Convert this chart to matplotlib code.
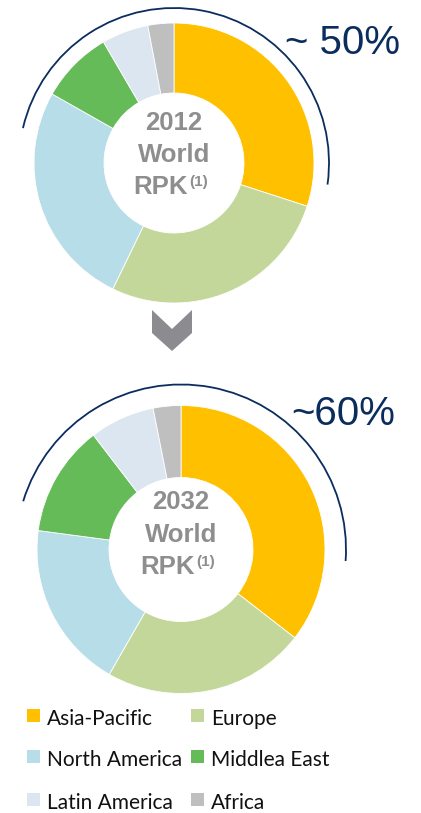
import matplotlib
matplotlib.use("Agg")
import matplotlib.pyplot as plt
from matplotlib.patches import Arc, Rectangle, Polygon

regions = ["Asia-Pacific", "Europe", "North America", "Middlea East", "Latin America", "Africa"]
colors = ["#FFC000", "#C4D79B", "#B7DDE8", "#66BB59", "#DCE6F1", "#BFBFBF"]
share_2012 = [30.0, 27.2, 26.0, 8.4, 5.4, 3.0]
share_2032 = [35.5, 22.8, 18.8, 12.5, 7.3, 3.1]
years = ["2012", "2032"]
callouts = ["~ 50%", "~60%"]

W, H = 421, 813
NAVY = "#0B2D5E"
GREY_TXT = "#8E8E8E"


def yy(y):
    # picture coords (top-down) -> data coords
    return H - y


fig = plt.figure(figsize=(W / 100, H / 100), dpi=100)
ax = fig.add_axes([0, 0, 1, 1])

layout = [
    dict(cx=174, cy=163, r=140, hole=70, arc_r=155, arc=(-8, 167),
         lines=(123, 155, 187), call=(285, 54)),
    dict(cx=181, cy=549.5, r=144, hole=72, arc_r=165, arc=(-4, 163),
         lines=(502, 535, 567), call=(291, 425)),
]

for vals, year, call, lay in zip([share_2012, share_2032], years, callouts, layout):
    cx, cy = lay["cx"], yy(lay["cy"])
    ax.pie(vals, colors=colors, startangle=90, counterclock=False,
           center=(cx, cy), radius=lay["r"], frame=True,
           wedgeprops=dict(width=lay["r"] - lay["hole"], edgecolor="white", linewidth=0.6))
    ax.add_patch(Arc((cx, cy), 2 * lay["arc_r"], 2 * lay["arc_r"],
                     theta1=lay["arc"][0], theta2=lay["arc"][1], color=NAVY, lw=1.3))
    ax.text(lay["call"][0], yy(lay["call"][1]), call, fontsize=29, color=NAVY,
            family="Liberation Sans", ha="left", va="baseline")
    l1, l2, l3 = lay["lines"]
    kw = dict(fontsize=18.5, color=GREY_TXT, family="Liberation Sans",
              fontweight="bold", va="center")
    ax.text(cx, yy(l1), year, ha="center", **kw)
    ax.text(cx, yy(l2), "World", ha="center", **kw)
    ax.text(cx + 14, yy(l3), "RPK", ha="right", **kw)
    ax.text(cx + 15, yy(l3 - 5), "(1)", ha="left", fontsize=11, color=GREY_TXT,
            family="Liberation Sans", fontweight="bold", va="center")

# chevron between the two years
chev = [(152, 310), (172, 329), (192, 310), (192, 333), (172, 351), (152, 333)]
ax.add_patch(Polygon([(x, yy(y)) for x, y in chev], closed=True,
                     facecolor="#8C8C90", edgecolor="none"))

# legend, two columns
col_x = [27, 191]
row_y = [709, 750, 793]
for i, (name, c) in enumerate(zip(regions, colors)):
    x = col_x[i % 2]
    y = row_y[i // 2]
    ax.add_patch(Rectangle((x, yy(y + 13)), 13, 13, facecolor=c, edgecolor="none"))
    ax.text(x + 20, yy(y + 16), name, fontsize=15, color="#111111",
            family="Lato", ha="left", va="baseline")

ax.set_xlim(0, W)
ax.set_ylim(0, H)
ax.set_aspect("equal")
ax.axis("off")

fig.savefig("out.png", dpi=100)
